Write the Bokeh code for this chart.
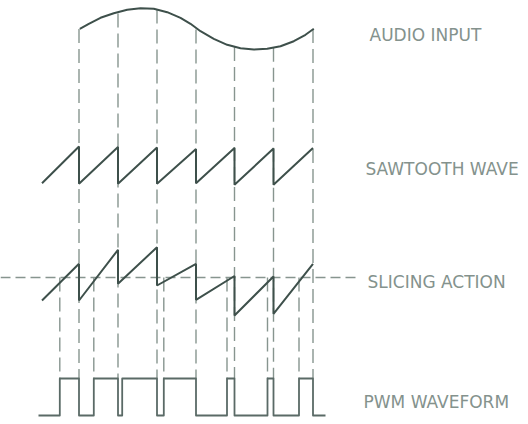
from bokeh.plotting import figure
from bokeh.models import Range1d
from bokeh.core.properties import value
from bokeh.embed import file_html
from bokeh.resources import INLINE

# ---- data (x = time, y = level, screen-like units) ----
sample_t = [78.5, 117.5, 156.5, 195.5, 234.0, 273.0, 312.5]   # sawtooth reset instants
start_t = 41.5                                                  # start of first ramp

audio_t = [79.3, 88.3, 100.0, 113.3, 126.7, 140.0, 153.3, 166.7, 180.0, 190.0,
           200.0, 213.3, 226.7, 240.0, 253.3, 266.7, 280.0, 293.3, 305.0, 313.3]
audio_v = [28.3, 23.3, 17.3, 12.7, 9.3, 7.7, 8.3, 11.7, 17.3, 23.3,
           30.7, 38.3, 44.3, 47.7, 49.0, 48.3, 45.7, 40.7, 34.3, 28.3]
audio_at_sample = [28.5, 13.0, 9.0, 29.0, 46.5, 47.3, 28.5]

saw_base = [182.7, 183.3, 183.3, 183.3, 182.7, 184.3, 184.3]
saw_peak = [146.0, 146.5, 147.0, 148.5, 147.5, 148.0, 147.5]

slice_base = [300.0, 300.0, 283.3, 285.0, 299.3, 315.0, 313.3]
slice_peak = [263.3, 249.3, 246.7, 263.3, 275.5, 276.0, 263.3]
threshold = 277.0
threshold_from, threshold_to = 0.0, 358.0

cross_t = [59.3, 93.3, 163.3, 226.5, 267.0, 298.5]

pwm_edges = [38.0, 59.3, 78.5, 93.3, 117.5, 121.7, 156.5, 163.3, 195.5,
             226.5, 234.0, 267.0, 273.0, 298.5, 312.5, 325.0]
pwm_hi, pwm_lo = 378.0, 415.0

labels = ["AUDIO INPUT", "SAWTOOTH WAVE", "SLICING ACTION", "PWM WAVEFORM"]
label_x = [369.0, 365.0, 367.0, 363.0]
label_y = [34.5, 168.5, 281.5, 401.5]

# ---- figure ----
W, H = 528, 424
p = figure(width=W, height=H, output_backend="svg", toolbar_location=None,
           x_range=Range1d(0, W), y_range=Range1d(H, 0), min_border=0)
p.axis.visible = False
p.grid.visible = False
p.outline_line_color = None
p.background_fill_color = "white"
p.border_fill_color = "white"

dash_col = "#87958f"
solid_col = "#3e504b"

# vertical dashed projection lines from the audio curve down to the PWM
p.segment(x0=sample_t, y0=audio_at_sample, x1=sample_t, y1=[pwm_hi] * len(sample_t),
          line_color=dash_col, line_width=1.4, line_dash="14 6")
# dashed lines from the slice crossings down to the PWM
p.segment(x0=cross_t, y0=[threshold] * len(cross_t), x1=cross_t, y1=[pwm_hi] * len(cross_t),
          line_color=dash_col, line_width=1.4, line_dash="14 6")
# slicing level
p.line([threshold_from, threshold_to], [threshold, threshold],
       line_color=dash_col, line_width=1.4, line_dash="10 5")

# audio
p.line(audio_t, audio_v, line_color=solid_col, line_width=2)

def saw_path(base, peak):
    xs, ys = [], []
    prev = start_t
    for i, t in enumerate(sample_t):
        xs += [prev, t]
        ys += [base[i], peak[i]]
        prev = t
    return xs, ys

sx, sy = saw_path(saw_base, saw_peak)
p.line(sx, sy, line_color=solid_col, line_width=2)
lx, ly = saw_path(slice_base, slice_peak)
p.line(lx, ly, line_color=solid_col, line_width=2)

# PWM
px, py = [], []
lvl = [pwm_lo, pwm_hi]
for i, e in enumerate(pwm_edges):
    if i == 0:
        px.append(e); py.append(pwm_lo)
        continue
    cur = lvl[(i - 1) % 2]
    px.append(e); py.append(cur)
    if i < len(pwm_edges) - 1:
        px.append(e); py.append(lvl[i % 2])
p.line(px, py, line_color="#5a6a66", line_width=1.8, line_join="round")

p.text(x=label_x, y=label_y, text=labels, text_font=value("DejaVu Sans"),
       text_font_size="17px", text_color="#84928d", text_baseline="middle", text_align="left")

open("out.html", "w").write(file_html(p, INLINE))
